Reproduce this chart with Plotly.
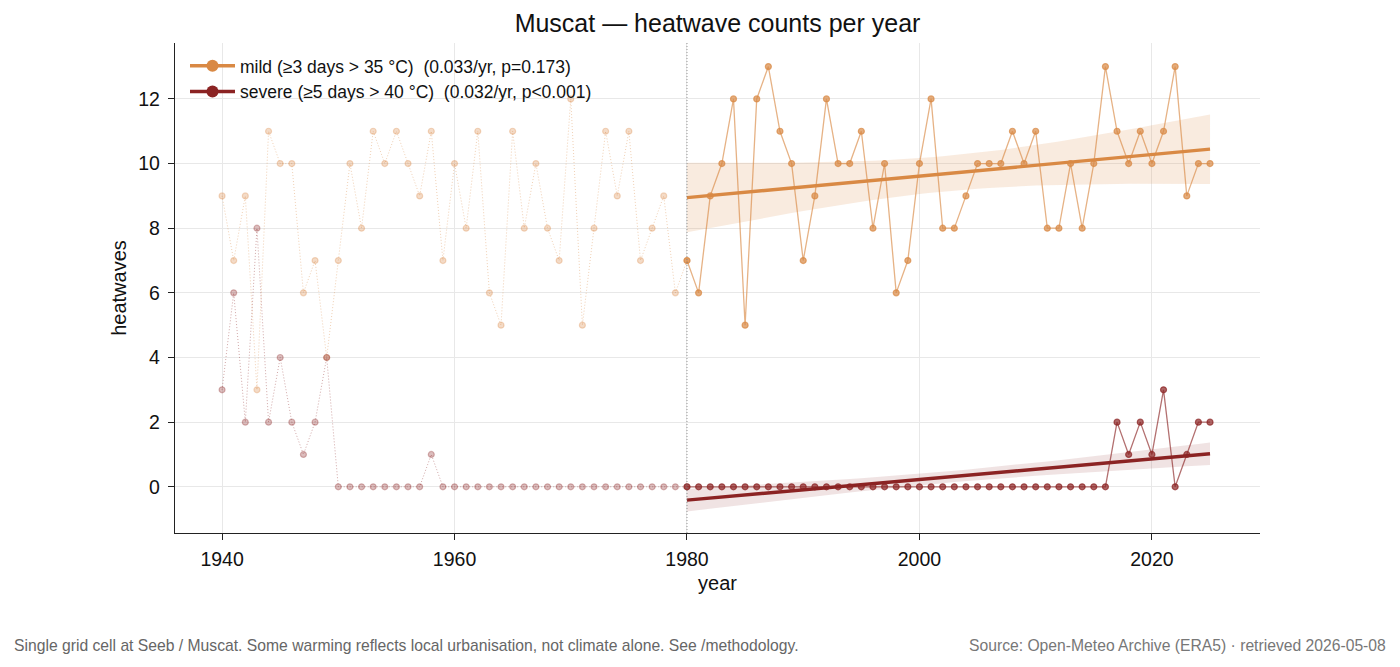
import numpy as np
import plotly.graph_objects as go

years = list(range(1940, 2026))
mild = [9, 7, 9, 3, 11, 10, 10, 6, 7, 4,
        7, 10, 8, 11, 10, 11, 10, 9, 11, 7,
        10, 8, 11, 6, 5, 11, 8, 10, 8, 7,
        12, 5, 8, 11, 9, 11, 7, 8, 9, 6,
        7, 6, 9, 10, 12, 5, 12, 13, 11, 10,
        7, 9, 12, 10, 10, 11, 8, 10, 6, 7,
        10, 12, 8, 8, 9, 10, 10, 10, 11, 10,
        11, 8, 8, 10, 8, 10, 13, 11, 10, 11,
        10, 11, 13, 9, 10, 10]
severe = [3, 6, 2, 8, 2, 4, 2, 1, 2, 4,
          0, 0, 0, 0, 0, 0, 0, 0, 1, 0,
          0, 0, 0, 0, 0, 0, 0, 0, 0, 0,
          0, 0, 0, 0, 0, 0, 0, 0, 0, 0,
          0, 0, 0, 0, 0, 0, 0, 0, 0, 0,
          0, 0, 0, 0, 0, 0, 0, 0, 0, 0,
          0, 0, 0, 0, 0, 0, 0, 0, 0, 0,
          0, 0, 0, 0, 0, 0, 0, 2, 1, 2,
          1, 3, 0, 1, 2, 2]
split_year = 1980
legend_labels = ["mild (≥3 days > 35 °C)  (0.033/yr, p=0.173)",
                 "severe (≥5 days > 40 °C)  (0.032/yr, p<0.001)"]
title = "Muscat — heatwave counts per year"
note_left = "Single grid cell at Seeb / Muscat. Some warming reflects local urbanisation, not climate alone. See /methodology."
note_right = "Source: Open-Meteo Archive (ERA5) · retrieved 2026-05-08"

FONT = "Liberation Sans, Arial, Helvetica, sans-serif"
colors = {"mild": (217, 137, 68), "severe": (139, 35, 35)}

def rgba(c, a):
    return f"rgba({c[0]},{c[1]},{c[2]},{a})"

yrs = np.array(years)
fig = go.Figure()

series = [("mild", mild, legend_labels[0]), ("severe", severe, legend_labels[1])]

# faded historic part
for key, vals, _ in series:
    c = colors[key]
    v = np.array(vals)
    m = yrs <= split_year
    fig.add_trace(go.Scatter(
        x=yrs[m], y=v[m], mode="lines+markers",
        line=dict(color=rgba(c, 0.4), width=1, dash="1px,2px"),
        marker=dict(size=6, color=rgba(c, 0.3), line=dict(color=rgba(c, 0.3), width=1.2)),
        showlegend=False, hoverinfo="skip"))

# bands + trends
for key, vals, label in series:
    c = colors[key]
    v = np.array(vals, dtype=float)
    m = yrs >= split_year
    x = yrs[m].astype(float)
    y = v[m]
    n = len(x)
    b, a = np.polyfit(x, y, 1)
    fit = a + b * x
    resid = y - fit
    s = np.sqrt(np.sum(resid ** 2) / (n - 2))
    xbar = x.mean()
    sxx = np.sum((x - xbar) ** 2)
    se = s * np.sqrt(1.0 / n + (x - xbar) ** 2 / sxx)
    tval = 2.0154
    lo = fit - tval * se
    hi = fit + tval * se
    fig.add_trace(go.Scatter(x=x, y=lo, mode="lines", line=dict(width=0),
                             showlegend=False, hoverinfo="skip"))
    fig.add_trace(go.Scatter(x=x, y=hi, mode="lines", line=dict(width=0),
                             fill="tonexty", fillcolor=rgba(c, 0.17 if key == "mild" else 0.13),
                             showlegend=False, hoverinfo="skip"))
    fig.add_trace(go.Scatter(
        x=x, y=y, mode="lines+markers",
        line=dict(color=rgba(c, 0.65), width=1.3),
        marker=dict(size=6, color=rgba(c, 0.7), line=dict(color=rgba(c, 0.7), width=1.2)),
        showlegend=False, hoverinfo="skip"))
    fig.add_trace(go.Scatter(x=x, y=fit, mode="lines",
                             line=dict(color=rgba(c, 1), width=3.4),
                             showlegend=False, hoverinfo="skip"))
    fig.add_trace(go.Scatter(x=[None], y=[None], mode="lines+markers", name=label,
                             line=dict(color=rgba(c, 1), width=3.6),
                             marker=dict(size=12, color=rgba(c, 1)),
                             showlegend=True))

fig.add_shape(type="line", xref="x", yref="paper", x0=split_year, x1=split_year, y0=0, y1=1,
              line=dict(color="rgba(120,120,120,0.75)", width=1, dash="1px,2px"), layer="above")

fig.update_layout(
    width=1400, height=667,
    margin=dict(l=175, r=140, t=43, b=134),
    paper_bgcolor="white", plot_bgcolor="white",
    font=dict(family=FONT, color="#111111", size=19.5),
    title=dict(text=title, x=0.5, xref="paper", xanchor="center", y=0.965, yanchor="middle",
               font=dict(size=25, family=FONT, color="#111")),
    legend=dict(x=10 / 1085, y=0.99, xanchor="left", yanchor="top", bgcolor="rgba(255,255,255,0)",
                font=dict(size=17.5, family=FONT, color="#111"), itemwidth=45,
                tracegroupgap=0, traceorder="normal"),
    showlegend=True,
)
fig.update_xaxes(range=[1935.95, 2029.3], tickvals=[1940, 1960, 1980, 2000, 2020],
                 showgrid=True, gridcolor="#e8e8e8", gridwidth=0.8,
                 showline=True, linecolor="#222", linewidth=1.3, mirror=False,
                 ticks="outside", ticklen=6, tickcolor="#222", tickwidth=1.2,
                 tickfont=dict(size=19.5), zeroline=False, ticklabelstandoff=2,
                 title=dict(text="year", font=dict(size=20), standoff=7))
fig.update_yaxes(range=[-1.43, 13.73], tickvals=[0, 2, 4, 6, 8, 10, 12],
                 showgrid=True, gridcolor="#e8e8e8", gridwidth=0.8,
                 showline=True, linecolor="#222", linewidth=1.3, mirror=False,
                 ticks="outside", ticklen=6, tickcolor="#222", tickwidth=1.2,
                 tickfont=dict(size=19.5), zeroline=False, ticklabelstandoff=4,
                 title=dict(text="heatwaves", font=dict(size=20), standoff=6))

fig.add_annotation(text=note_left, xref="paper", yref="paper", x=-(175 - 12) / 1085, y=-(646 - 533) / 490,
                   xanchor="left", yanchor="middle", showarrow=False,
                   font=dict(size=15.7, color="#666", family=FONT))
fig.add_annotation(text=note_right, xref="paper", yref="paper", x=(1388 - 175) / 1085, y=-(646 - 533) / 490,
                   xanchor="right", yanchor="middle", showarrow=False,
                   font=dict(size=15.7, color="#777", family=FONT))

fig.write_html("out.html")
